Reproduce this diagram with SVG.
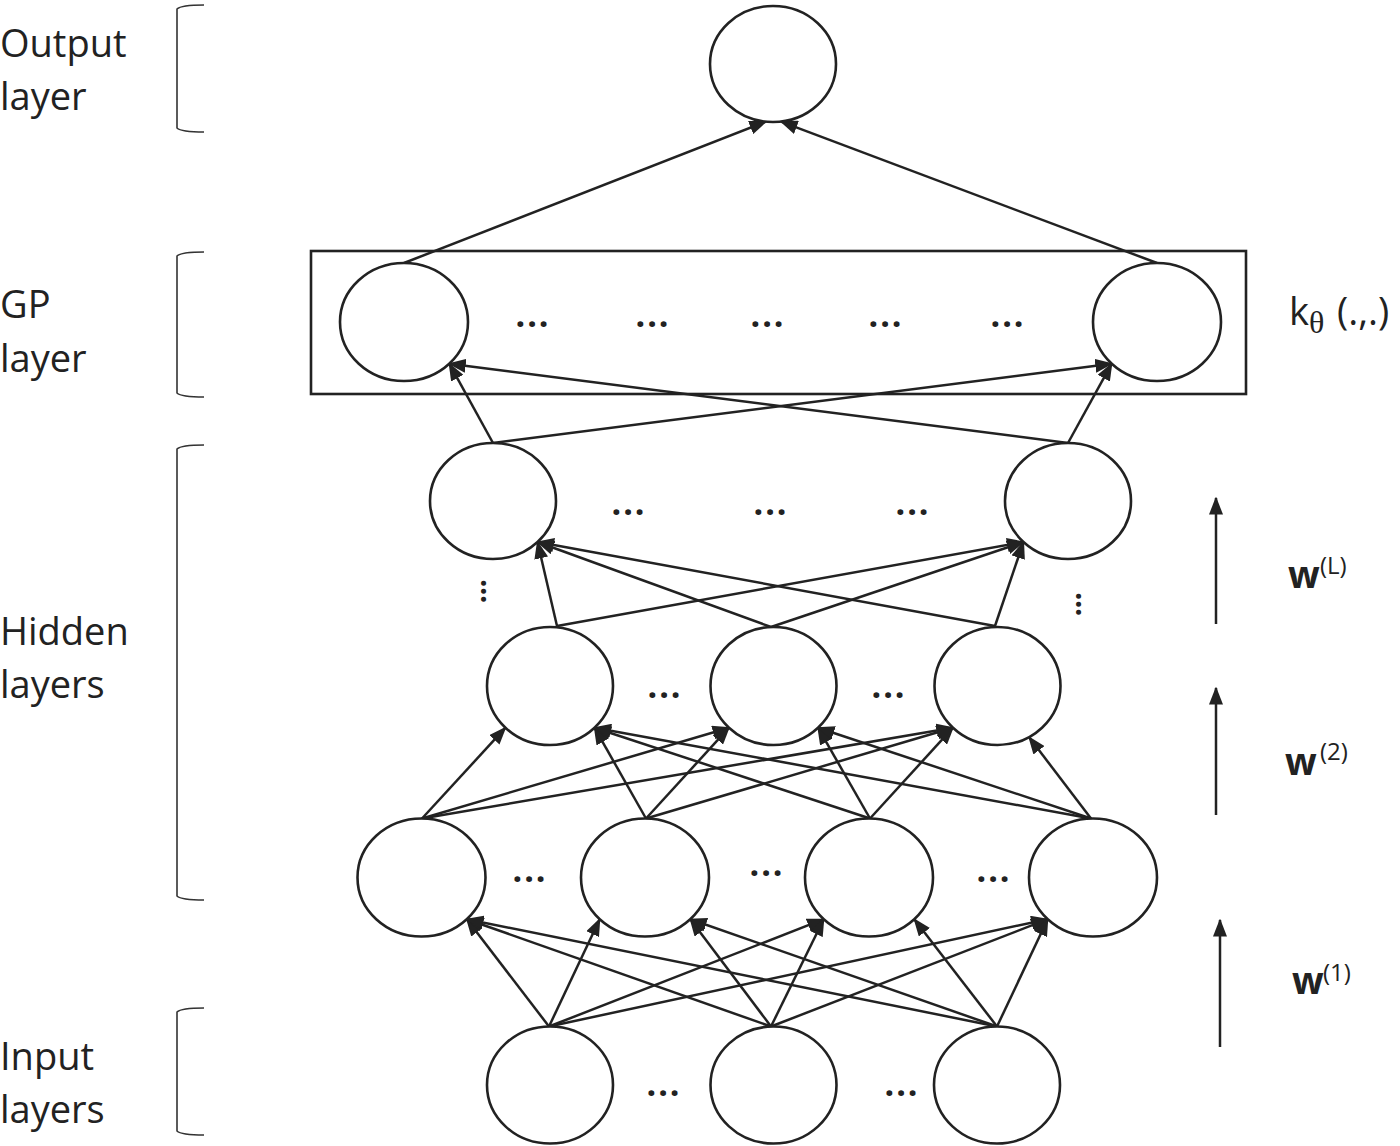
<svg xmlns="http://www.w3.org/2000/svg" width="1400" height="1146" viewBox="0 0 1400 1146">
<style>
.lbl{font-family:"Open Sans","Liberation Sans",sans-serif;font-size:38px;fill:#222}
.dots{font-family:"Open Sans","Liberation Sans",sans-serif;font-size:34px;font-weight:700;fill:#222;text-anchor:middle;letter-spacing:2px}
.vdots{font-family:"Open Sans","Liberation Sans",sans-serif;font-size:30px;font-weight:700;fill:#222;text-anchor:middle;letter-spacing:-0.5px}
.node{fill:#fff;stroke:#222;stroke-width:2.6}
.br{fill:none;stroke:#333;stroke-width:1.6}
.con line{stroke:#222;stroke-width:2.5;marker-end:url(#ah)}
.w{font-family:"Open Sans","Liberation Sans",sans-serif;font-weight:700;font-size:37px;fill:#222}
.sup{font-family:"Open Sans","Liberation Sans",sans-serif;font-size:24px;fill:#222}
</style>
<defs>
<marker id="ah" markerUnits="userSpaceOnUse" markerWidth="18" markerHeight="14" refX="16.5" refY="7" orient="auto" viewBox="0 0 18 14">
<path d="M0,0 L18,7 L0,14 z" fill="#222"/>
</marker>
</defs>
<rect width="1400" height="1146" fill="#fff"/>

<g id="labels">
<text class="lbl" x="0" y="57">Output</text>
<text class="lbl" x="0" y="110">layer</text>
<text class="lbl" x="0" y="318">GP</text>
<text class="lbl" x="0" y="372">layer</text>
<text class="lbl" x="0" y="645">Hidden</text>
<text class="lbl" x="0" y="698">layers</text>
<text class="lbl" x="0" y="1070">Input</text>
<text class="lbl" x="0" y="1123">layers</text>
</g>
<g id="brackets">
<path class="br" d="M204,5 C188,5 180,6 177,9 L177,128 C180,131 188,132 204,132"/>
<path class="br" d="M204,252 C188,252 180,253 177,256 L177,393 C180,396 188,397 204,397"/>
<path class="br" d="M204,445 C188,445 180,446 177,449 L177,896 C180,899 188,900 204,900"/>
<path class="br" d="M204,1008 C188,1008 180,1009 177,1012 L177,1131 C180,1134 188,1135 204,1135"/>
</g>

<g id="gp-box">
<rect x="311" y="251" width="935" height="143" fill="none" stroke="#222" stroke-width="2.6"/>
</g>

<g id="connectors" class="con">
<line x1="404" y1="263" x2="766" y2="121.6"/>
<line x1="1157" y1="263" x2="781" y2="121.6"/>
<line x1="493" y1="443" x2="449.3" y2="363.7"/>
<line x1="493" y1="443" x2="1111.7" y2="363.7"/>
<line x1="1068" y1="443" x2="449.3" y2="363.7"/>
<line x1="1068" y1="443" x2="1111.7" y2="363.7"/>
<line x1="557" y1="626" x2="537.5" y2="542"/>
<line x1="557" y1="626" x2="1023.5" y2="542"/>
<line x1="771" y1="627" x2="537.5" y2="542"/>
<line x1="771" y1="627" x2="1023.5" y2="542"/>
<line x1="995" y1="626" x2="537.5" y2="542"/>
<line x1="995" y1="626" x2="1023.5" y2="542"/>
<line x1="422" y1="818.5" x2="505.5" y2="727.7"/>
<line x1="422" y1="818.5" x2="729" y2="727.7"/>
<line x1="422" y1="818.5" x2="953" y2="727.7"/>
<line x1="646" y1="818.5" x2="594.5" y2="727.7"/>
<line x1="646" y1="818.5" x2="729" y2="727.7"/>
<line x1="646" y1="818.5" x2="953" y2="727.7"/>
<line x1="870" y1="818.5" x2="594.5" y2="727.7"/>
<line x1="870" y1="818.5" x2="818" y2="727.7"/>
<line x1="870" y1="818.5" x2="953" y2="727.7"/>
<line x1="1091" y1="818.5" x2="594.5" y2="727.7"/>
<line x1="1091" y1="818.5" x2="818" y2="727.7"/>
<line x1="1091" y1="818.5" x2="1029" y2="737.1"/>
<line x1="549" y1="1026.5" x2="466.8" y2="919.2"/>
<line x1="549" y1="1026.5" x2="599.7" y2="919.2"/>
<line x1="549" y1="1026.5" x2="823.7" y2="919.2"/>
<line x1="549" y1="1026.5" x2="1047.7" y2="919.2"/>
<line x1="771" y1="1026.5" x2="466.8" y2="919.2"/>
<line x1="771" y1="1026.5" x2="690.3" y2="919.2"/>
<line x1="771" y1="1026.5" x2="823.7" y2="919.2"/>
<line x1="771" y1="1026.5" x2="1047.7" y2="919.2"/>
<line x1="997" y1="1026.5" x2="466.8" y2="919.2"/>
<line x1="997" y1="1026.5" x2="690.3" y2="919.2"/>
<line x1="997" y1="1026.5" x2="914.3" y2="919.2"/>
<line x1="997" y1="1026.5" x2="1047.7" y2="919.2"/>
<line x1="1216" y1="624" x2="1216" y2="498"/>
<line x1="1216" y1="815" x2="1216" y2="688"/>
<line x1="1220" y1="1047" x2="1220" y2="920"/>
</g>

<g id="node-out"><ellipse class="node" cx="773" cy="64" rx="63" ry="58"/></g>
<g id="node-gp1"><ellipse class="node" cx="404" cy="322" rx="64" ry="59"/></g>
<g id="node-gp2"><ellipse class="node" cx="1157" cy="322" rx="64" ry="59"/></g>
<g id="node-hL1"><ellipse class="node" cx="493" cy="501" rx="63" ry="58"/></g>
<g id="node-hL2"><ellipse class="node" cx="1068" cy="501" rx="63" ry="58"/></g>
<g id="node-h2-1"><ellipse class="node" cx="550" cy="686" rx="63" ry="59"/></g>
<g id="node-h2-2"><ellipse class="node" cx="773.5" cy="686" rx="63" ry="59"/></g>
<g id="node-h2-3"><ellipse class="node" cx="997.5" cy="686" rx="63" ry="59"/></g>
<g id="node-h1-1"><ellipse class="node" cx="421.5" cy="877.5" rx="64" ry="59"/></g>
<g id="node-h1-2"><ellipse class="node" cx="645" cy="877.5" rx="64" ry="59"/></g>
<g id="node-h1-3"><ellipse class="node" cx="869" cy="877.5" rx="64" ry="59"/></g>
<g id="node-h1-4"><ellipse class="node" cx="1093" cy="877.5" rx="64" ry="59"/></g>
<g id="node-in1"><ellipse class="node" cx="550" cy="1085" rx="63" ry="58.5"/></g>
<g id="node-in2"><ellipse class="node" cx="773.5" cy="1085" rx="63" ry="58.5"/></g>
<g id="node-in3"><ellipse class="node" cx="997" cy="1085" rx="63" ry="58.5"/></g>

<g id="ellipses">
<text class="dots" x="533" y="327">...</text>
<text class="dots" x="653" y="327">...</text>
<text class="dots" x="768" y="327">...</text>
<text class="dots" x="886" y="327">...</text>
<text class="dots" x="1008" y="327">...</text>
<text class="dots" x="629" y="515">...</text>
<text class="dots" x="771" y="515">...</text>
<text class="dots" x="913" y="515">...</text>
<text class="dots" x="665" y="698">...</text>
<text class="dots" x="889" y="698">...</text>
<text class="dots" x="530" y="882">...</text>
<text class="dots" x="767" y="876">...</text>
<text class="dots" x="994" y="882">...</text>
<text class="dots" x="664" y="1096">...</text>
<text class="dots" x="902" y="1096">...</text>
<text class="vdots" transform="translate(480.5,591) rotate(90)">...</text>
<text class="vdots" transform="translate(1075.5,604) rotate(90)">...</text>
</g>

<g id="kernel">
<text class="lbl" x="1289" y="325">k<tspan font-family="'Liberation Serif','DejaVu Serif',serif" font-size="32" dy="8">θ</tspan><tspan x="1337" dy="-8">(.,.)</tspan></text>
</g>

<g id="weights">
<text x="1288" y="588"><tspan class="w">w</tspan><tspan class="sup" x="1320" y="574">(L)</tspan></text>
<text x="1285" y="775"><tspan class="w">w</tspan><tspan class="sup" x="1320" y="760">(2)</tspan></text>
<text x="1292" y="994"><tspan class="w">w</tspan><tspan class="sup" x="1323" y="981">(1)</tspan></text>
</g>
</svg>
